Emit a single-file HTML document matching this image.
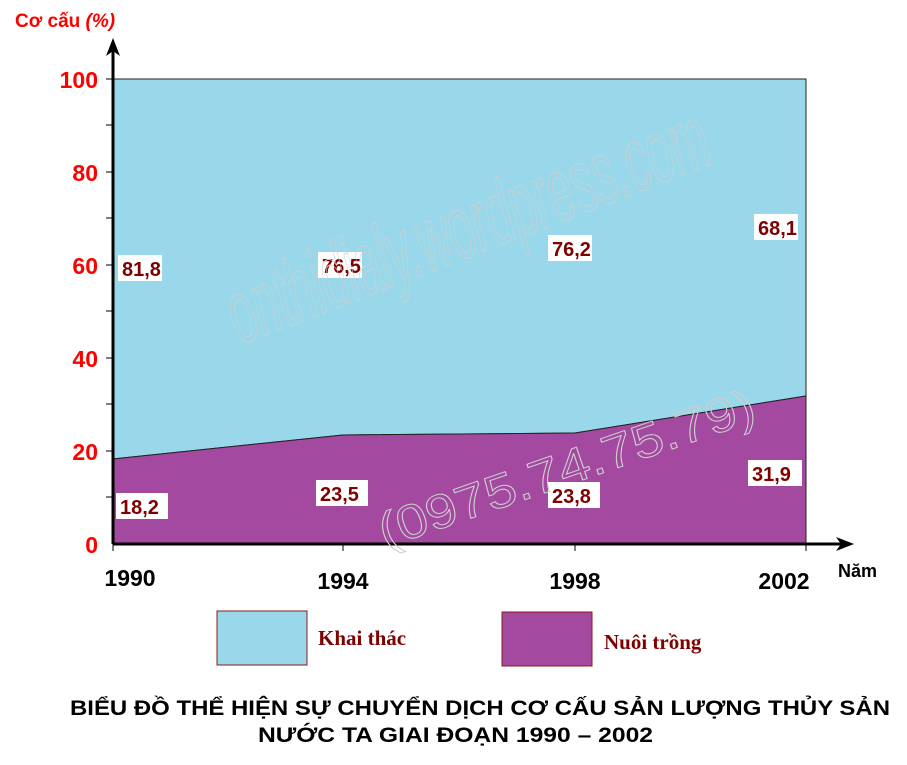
<!DOCTYPE html>
<html><head><meta charset="utf-8"><style>
body{margin:0;background:#fff;width:907px;height:760px;overflow:hidden}
svg text{font-family:"Liberation Sans",Arial,sans-serif}
</style></head><body>
<svg width="907" height="760" viewBox="0 0 907 760">
<polygon points="113,79 806,79 806,396 575,433 343,435 113,459" fill="#99d8ea" stroke="#222" stroke-width="1"/>
<polygon points="113,459 343,435 575,433 806,396 806,544 113,544" fill="#a349a0" stroke="#222" stroke-width="1"/>
<line x1="113" y1="544" x2="113" y2="50" stroke="#000" stroke-width="3"/>
<polygon points="106,56 113,38 120,56 113,51" fill="#000"/>
<line x1="113" y1="544" x2="842" y2="544" stroke="#000" stroke-width="3"/>
<polygon points="836,537 854,544 836,551 841,544" fill="#000"/>
<g stroke="#000" stroke-width="1">
<line x1="106" y1="79" x2="113" y2="79"/><line x1="106" y1="125" x2="113" y2="125"/>
<line x1="106" y1="172" x2="113" y2="172"/><line x1="106" y1="218" x2="113" y2="218"/>
<line x1="106" y1="265" x2="113" y2="265"/><line x1="106" y1="311" x2="113" y2="311"/>
<line x1="106" y1="358" x2="113" y2="358"/><line x1="106" y1="404" x2="113" y2="404"/>
<line x1="106" y1="451" x2="113" y2="451"/><line x1="106" y1="497" x2="113" y2="497"/>
<line x1="113" y1="544" x2="113" y2="551"/><line x1="343" y1="544" x2="343" y2="551"/>
<line x1="575" y1="544" x2="575" y2="551"/><line x1="806" y1="544" x2="806" y2="551"/>
</g>
<g fill="#ff0000" font-weight="bold" font-size="23" text-anchor="end">
<text x="98" y="88">100</text><text x="98" y="181">80</text><text x="98" y="274">60</text>
<text x="98" y="367">40</text><text x="98" y="460">20</text><text x="98" y="553">0</text>
</g>
<text x="15" y="27" fill="#ff0000" font-weight="bold" font-size="19">Cơ cấu <tspan font-style="italic">(%)</tspan></text>
<g font-weight="bold" font-size="23" text-anchor="middle" fill="#000">
<text x="130" y="586">1990</text><text x="343" y="589">1994</text><text x="575" y="589">1998</text><text x="784" y="589">2002</text>
</g>
<text x="838" y="577" font-weight="bold" font-size="18">Năm</text>
<g font-size="20" font-weight="bold" fill="#800000">
<rect x="118" y="255" width="44" height="26" fill="#fff"/><text x="122" y="276">81,8</text>
<rect x="318" y="252" width="44" height="26" fill="#fff"/><text x="322" y="273">76,5</text>
<rect x="548" y="235" width="44" height="26" fill="#fff"/><text x="552" y="256">76,2</text>
<rect x="754" y="214" width="44" height="26" fill="#fff"/><text x="758" y="235">68,1</text>
<rect x="116" y="493" width="52" height="26" fill="#fff"/><text x="120" y="514">18,2</text>
<rect x="316" y="480" width="52" height="26" fill="#fff"/><text x="320" y="501">23,5</text>
<rect x="548" y="482" width="52" height="26" fill="#fff"/><text x="552" y="503">23,8</text>
<rect x="748" y="460" width="54" height="26" fill="#fff"/><text x="752" y="481">31,9</text>
</g>
<text x="240" y="345" font-size="90" font-style="italic" fill="none" stroke="#cfcfcf" stroke-width="1" textLength="510" lengthAdjust="spacingAndGlyphs" transform="rotate(-21 240 345)">onthidialy.wordpress.com</text>
<text x="385" y="548" font-size="48" fill="none" stroke="#cfcfcf" stroke-width="1" textLength="395" lengthAdjust="spacingAndGlyphs" transform="rotate(-19 385 548)">(0975.74.75.79)</text>
<rect x="217" y="611" width="90" height="54" fill="#99d8ea" stroke="#8b1a1a"/>
<text x="318" y="645" font-weight="bold" font-size="21" fill="#800000" style="font-family:'Liberation Serif',serif">Khai thác</text>
<rect x="502" y="612" width="90" height="54" fill="#a349a0" stroke="#8b1a1a"/>
<text x="604" y="649" font-weight="bold" font-size="21" fill="#800000" style="font-family:'Liberation Serif',serif">Nuôi trồng</text>
<g font-weight="bold" font-size="21" fill="#000">
<text x="70" y="715" textLength="820" lengthAdjust="spacingAndGlyphs">BIỂU ĐỒ THỂ HIỆN SỰ CHUYỂN DỊCH CƠ CẤU SẢN LƯỢNG THỦY SẢN</text>
<text x="258" y="742" textLength="395" lengthAdjust="spacingAndGlyphs">NƯỚC TA GIAI ĐOẠN 1990 – 2002</text>
</g>
</svg>
</body></html>
